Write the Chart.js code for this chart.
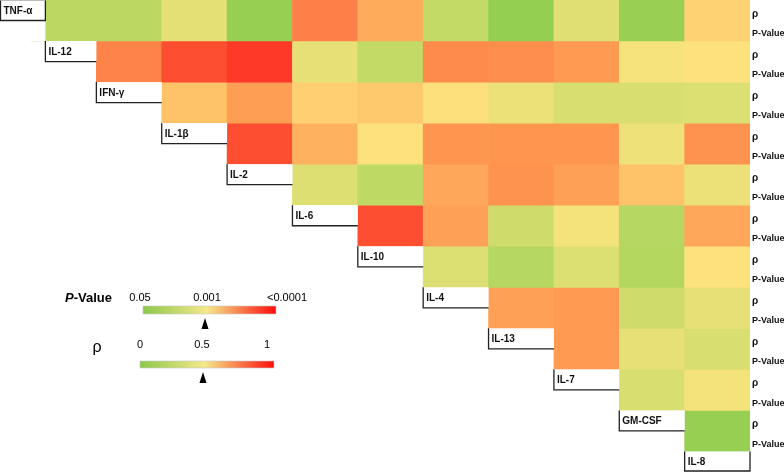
<!DOCTYPE html>
<html>
<head>
<meta charset="utf-8">
<script src="https://cdn.jsdelivr.net/npm/chart.js@4.4.0/dist/chart.umd.min.js"></script>
<style>
  html, body { margin: 0; padding: 0; background: #fff; }
  #wrap { width: 784px; height: 472px; }
</style>
</head>
<body>
<div id="wrap"><canvas id="heat" width="784" height="472"></canvas></div>
<script>
// cytokines, in matrix order (row i is correlated with every cytokine after it)
const cytokines = ["TNF-α", "IL-12", "IFN-γ", "IL-1β", "IL-2", "IL-6", "IL-10", "IL-4", "IL-13", "IL-7", "GM-CSF", "IL-8"];
const rowLabels = ["ρ", "P-Value"];

// rho per row
const rhoTNFa  = [0.20, 0.20, 0.39, 0.04, 0.82, 0.70, 0.24, 0.03, 0.37, 0.05, 0.57];
const rhoIL12  = [0.81, 0.93, 0.97, 0.40, 0.24, 0.79, 0.78, 0.75, 0.47, 0.51];
const rhoIFNg  = [0.63, 0.74, 0.58, 0.61, 0.52, 0.42, 0.33, 0.33, 0.35];
const rhoIL1b  = [0.93, 0.68, 0.51, 0.76, 0.76, 0.76, 0.43, 0.77];
const rhoIL2   = [0.36, 0.22, 0.71, 0.77, 0.73, 0.63, 0.42];
const rhoIL6   = [0.93, 0.73, 0.29, 0.46, 0.18, 0.71];
const rhoIL10  = [0.35, 0.18, 0.35, 0.17, 0.51];
const rhoIL4   = [0.73, 0.75, 0.29, 0.40];
const rhoIL13  = [0.75, 0.40, 0.33];
const rhoIL7   = [0.33, 0.46];
const rhoGMCSF = [0.04];
const rhoRows = [rhoTNFa, rhoIL12, rhoIFNg, rhoIL1b, rhoIL2, rhoIL6, rhoIL10, rhoIL4, rhoIL13, rhoIL7, rhoGMCSF];

// legend ticks
const pTicks = ["0.05", "0.001", "<0.0001"];
const rhoTicks = ["0", "0.5", "1"];

// colour scale green -> yellow -> red
const stops = [
  [0.0,   [142, 205, 79]],
  [0.25,  [198, 219, 104]],
  [0.5,   [253, 228, 127]],
  [0.625, [254, 196, 106]],
  [0.75,  [254, 154, 82]],
  [0.875, [254, 106, 62]],
  [1.0,   [254, 42, 32]]
];

function rhoColor(v) {
  for (let s = 1; s < stops.length; s++) {
    if (v <= stops[s][0]) {
      const [a, ca] = stops[s - 1];
      const [b, cb] = stops[s];
      const t = (v - a) / (b - a);
      const c = ca.map((x, n) => Math.round(x + (cb[n] - x) * t));
      return "rgb(" + c.join(",") + ")";
    }
  }
  return "rgb(" + stops[stops.length - 1][1].join(",") + ")";
}

const cols = cytokines.slice(1);

// one floating-bar dataset per matrix row
const datasets = rhoRows.map((vals, i) => {
  const data = [], colors = [];
  cols.forEach((c, j) => {
    if (j + 1 > i) {
      data.push([i, i + 1]);
      colors.push(rhoColor(vals[j - i]));
    } else {
      data.push(null);
      colors.push("rgba(0,0,0,0)");
    }
  });
  return {
    label: cytokines[i],
    data: data,
    backgroundColor: colors,
    borderWidth: 0,
    grouped: false,
    categoryPercentage: 1,
    barPercentage: 1
  };
});

const FONT = "'Liberation Sans', Arial, sans-serif";

// labels, row captions and colour keys
const annotate = {
  id: "annotate",
  afterDatasetsDraw(chart) {
    const ctx = chart.ctx;
    const xs = chart.scales.x, ys = chart.scales.y;
    const colW = xs.getPixelForValue(1) - xs.getPixelForValue(0);
    const colLeft = k => xs.getPixelForValue(k - 1) - colW / 2;
    const split = colLeft(1) + colW * 0.22;

    ctx.save();

    // blank corner left of the first row, under the TNF-α tag
    ctx.fillStyle = "#fff";
    ctx.fillRect(0, 0, split, ys.getPixelForValue(1));

    // diagonal name boxes
    cytokines.forEach((name, k) => {
      const top = ys.getPixelForValue(k);
      const bottom = Math.min(ys.getPixelForValue(k + 0.5), chart.height - 1);
      let left = k === 0 ? 0.5 : (k === 1 ? split : colLeft(k));
      let right = k === 0 ? split : colLeft(k) + colW;
      ctx.fillStyle = "#fff";
      ctx.fillRect(left, top, right - left, bottom - top);
      ctx.strokeStyle = "#222";
      ctx.lineWidth = 1.3;
      ctx.beginPath();
      ctx.moveTo(left, top);
      ctx.lineTo(left, bottom);
      ctx.lineTo(right, bottom);
      if (k === 0 || k === cytokines.length - 1) ctx.lineTo(right, top);
      ctx.stroke();
      if (k === 0) {
        ctx.strokeStyle = "#bbb";
        ctx.lineWidth = 1;
        ctx.beginPath();
        ctx.moveTo(left, top + 0.5);
        ctx.lineTo(right, top + 0.5);
        ctx.stroke();
      }
      ctx.fillStyle = "#111";
      ctx.font = "bold 10px " + FONT;
      ctx.textAlign = "left";
      ctx.textBaseline = "middle";
      ctx.fillText(name, left + 3, (top + bottom) / 2 + 1);
    });

    // rho / P-Value captions on the right
    ctx.fillStyle = "#111";
    ctx.textAlign = "left";
    ctx.textBaseline = "middle";
    rhoRows.forEach((r, i) => {
      ctx.font = "bold 10px " + FONT;
      ctx.fillText(rowLabels[0], xs.right + 2, ys.getPixelForValue(i + 0.34));
      ctx.font = "bold 9px " + FONT;
      ctx.fillText(rowLabels[1], xs.right + 2, ys.getPixelForValue(i + 0.82));
    });

    // colour keys
    function key(x0, x1, y0, h, markX) {
      const g = ctx.createLinearGradient(x0, 0, x1, 0);
      g.addColorStop(0, "#8cc84a");
      g.addColorStop(0.48, "#f5e88a");
      g.addColorStop(1, "#ff0d0d");
      ctx.fillStyle = g;
      ctx.fillRect(x0, y0, x1 - x0, h);
      ctx.strokeStyle = "#c8c8c8";
      ctx.lineWidth = 0.6;
      ctx.strokeRect(x0, y0, x1 - x0, h);
      ctx.fillStyle = "#000";
      ctx.beginPath();
      ctx.moveTo(markX, y0 + h + 4);
      ctx.lineTo(markX - 3.5, y0 + h + 15);
      ctx.lineTo(markX + 3.5, y0 + h + 15);
      ctx.closePath();
      ctx.fill();
    }

    // P-Value key
    ctx.fillStyle = "#000";
    ctx.textBaseline = "middle";
    ctx.textAlign = "right";
    ctx.font = "bold 13px " + FONT;
    const restW = ctx.measureText("-Value").width;
    ctx.fillText("-Value", 112, 298);
    ctx.font = "italic bold 13px " + FONT;
    ctx.fillText("P", 112 - restW, 298);
    ctx.font = "11px " + FONT;
    ctx.textAlign = "center";
    [140, 207, 287].forEach((x, n) => ctx.fillText(pTicks[n], x, 298));
    key(143, 276, 306, 8, 205);

    // rho key
    ctx.fillStyle = "#000";
    ctx.font = "16px " + FONT;
    ctx.textAlign = "center";
    ctx.fillText("ρ", 97, 348);
    ctx.font = "11px " + FONT;
    [140, 202, 267].forEach((x, n) => ctx.fillText(rhoTicks[n], x, 345));
    key(140, 274, 361, 7, 203);

    ctx.restore();
  }
};

new Chart(document.getElementById("heat"), {
  type: "bar",
  data: { labels: cols, datasets: datasets },
  options: {
    responsive: false,
    animation: false,
    layout: { padding: { left: 31, right: 34, top: 0, bottom: 0 } },
    scales: {
      x: { type: "category", display: false, offset: true, grid: { display: false } },
      y: { type: "linear", min: 0, max: 11.5, reverse: true, display: false, grid: { display: false } }
    },
    plugins: {
      legend: { display: false },
      tooltip: { enabled: false }
    }
  },
  plugins: [annotate]
});
</script>
</body>
</html>
